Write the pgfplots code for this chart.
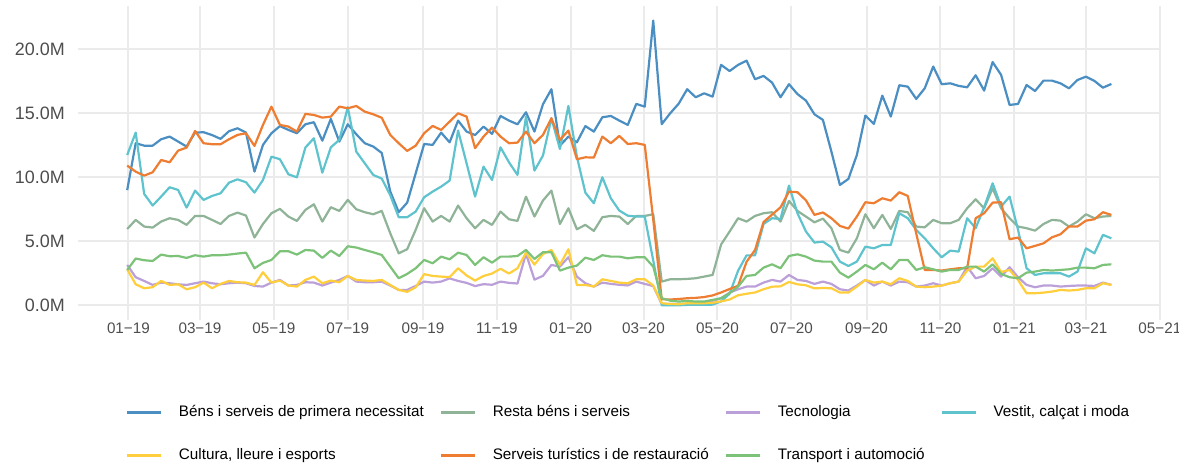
\documentclass[border=0pt]{standalone}
\usepackage{fontspec}
\setmainfont{Liberation Sans}
\usepackage{pgfplots}
\usepackage{pgfplotstable}
\pgfplotsset{compat=1.18}
\definecolor{cBens}{HTML}{4A8EC2}
\definecolor{cResta}{HTML}{8FB397}
\definecolor{cTec}{HTML}{BB9FD9}
\definecolor{cVest}{HTML}{5FC3CE}
\definecolor{cCult}{HTML}{FFCE3C}
\definecolor{cServ}{HTML}{EE7D31}
\definecolor{cTrans}{HTML}{7CC278}
\definecolor{gridgray}{HTML}{EBEBEB}
\definecolor{tickgray}{HTML}{4D4D4D}
\pgfplotstableread{
d A B C D E F G
-1 9.0 5.96 3.15 11.74 2.81 10.91 2.76
6 12.66 6.67 2.19 13.49 1.64 10.44 3.65
13 12.47 6.15 1.9 8.7 1.33 10.13 3.52
20 12.47 6.07 1.59 7.79 1.41 10.39 3.46
27 12.97 6.54 1.77 8.49 1.9 11.35 3.96
34 13.18 6.8 1.72 9.22 1.59 11.17 3.83
41 12.79 6.67 1.64 9.01 1.64 12.08 3.85
48 12.4 6.28 1.59 7.63 1.25 12.32 3.7
55 13.49 6.98 1.72 8.96 1.41 13.62 3.91
62 13.52 6.98 1.85 8.23 1.77 12.66 3.8
69 13.3 6.67 1.72 8.54 1.33 12.58 3.91
76 13.0 6.35 1.64 8.75 1.67 12.58 3.91
83 13.6 6.98 1.72 9.58 1.9 12.97 3.96
90 13.83 7.24 1.77 9.84 1.8 13.31 4.04
97 13.49 7.01 1.72 9.61 1.77 13.44 4.11
104 10.44 5.29 1.51 8.8 1.59 12.45 2.89
111 12.53 6.35 1.46 9.79 2.58 14.09 3.31
118 13.44 7.19 1.77 11.61 1.77 15.52 3.54
125 14.0 7.53 1.98 11.41 1.93 14.09 4.22
132 13.7 6.93 1.54 10.23 1.54 13.96 4.22
139 13.44 6.59 1.59 10.0 1.46 13.57 3.96
146 14.14 7.45 1.8 12.32 1.98 14.95 4.32
153 14.3 7.89 1.77 13.05 2.24 14.87 4.27
160 12.86 6.54 1.54 10.36 1.72 14.66 3.7
167 14.56 7.66 1.77 12.34 1.93 14.74 4.27
174 12.79 7.37 1.98 12.92 1.8 15.52 3.85
181 14.14 8.23 2.29 15.47 2.29 15.39 4.61
188 13.36 7.5 1.85 12.0 1.98 15.57 4.51
195 12.66 7.27 1.8 11.09 1.93 15.13 4.32
202 12.4 7.11 1.8 10.18 1.9 14.92 4.14
209 11.9 7.37 1.85 9.9 1.98 14.65 3.93
216 8.9 5.63 1.54 8.6 1.59 13.31 3.02
223 7.27 4.06 1.2 6.88 1.2 12.66 2.11
230 8.02 4.38 1.2 6.88 1.05 12.06 2.45
237 10.3 5.89 1.51 7.32 1.4 12.47 2.89
244 12.6 7.58 1.85 8.44 2.43 13.44 3.54
251 12.53 6.54 1.77 8.88 2.29 14.01 3.28
258 13.49 6.98 1.85 9.27 2.24 13.7 3.8
265 12.73 6.54 2.1 9.74 2.2 14.35 3.59
272 14.43 7.79 1.9 13.65 2.89 15.0 4.11
279 13.57 6.8 1.75 11.09 2.33 14.74 3.93
286 13.3 6.02 1.5 8.49 1.93 12.27 3.15
293 13.96 6.67 1.65 10.83 2.29 13.18 3.75
300 13.39 6.28 1.6 9.79 2.48 13.88 3.33
307 14.79 7.32 1.85 12.34 2.85 13.18 3.8
314 14.43 6.72 1.75 11.17 2.48 12.66 3.8
321 14.14 6.59 1.7 10.18 2.89 12.71 3.85
328 15.08 8.49 4.03 14.74 4.1 13.57 4.32
335 13.57 6.93 2.0 10.52 3.18 12.66 3.62
342 15.7 8.18 2.3 11.69 4.0 13.31 4.14
349 16.88 8.96 3.15 14.61 4.32 14.61 4.14
356 12.47 6.35 3.02 12.21 3.15 12.92 2.71
363 13.18 7.58 3.75 15.57 4.38 13.65 2.94
370 12.73 5.94 2.24 11.61 1.59 11.41 3.1
377 14.0 6.28 1.72 8.8 1.59 11.56 3.72
384 13.57 5.81 1.46 7.97 1.46 11.54 3.54
391 14.69 6.88 1.77 10.0 2.03 13.18 3.91
398 14.79 6.98 1.67 8.36 1.9 12.66 3.8
405 14.43 6.93 1.6 7.4 1.77 13.23 3.8
412 14.09 6.35 1.55 7.0 1.72 12.6 3.67
419 15.73 6.98 1.85 6.93 2.03 12.66 3.75
426 15.52 6.98 1.67 6.93 2.03 12.53 3.75
433 22.24 7.11 1.5 3.5 1.55 6.7 3.02
440 14.15 1.85 0.1 0.0 0.16 0.47 0.55
447 15.0 2.03 0.1 0.0 0.1 0.45 0.36
454 15.75 2.03 0.1 0.0 0.08 0.49 0.29
461 16.88 2.06 0.1 0.03 0.16 0.55 0.34
468 16.25 2.11 0.1 0.03 0.16 0.58 0.29
475 16.56 2.24 0.15 0.03 0.16 0.64 0.29
482 16.3 2.37 0.34 0.05 0.2 0.77 0.42
489 18.78 4.75 0.55 0.3 0.3 1.0 0.55
496 18.3 5.76 0.99 0.9 0.45 1.27 0.94
503 18.78 6.8 1.25 2.7 0.78 1.52 1.46
510 19.11 6.54 1.46 3.9 0.9 3.4 2.29
517 17.66 6.98 1.46 3.9 1.0 4.32 2.37
524 17.92 7.19 1.77 6.35 1.25 6.5 2.94
531 17.4 7.27 1.98 6.8 1.45 7.08 3.2
538 16.25 6.54 1.85 6.74 1.48 7.65 2.89
545 17.27 8.15 2.37 9.35 1.82 8.88 3.85
552 16.5 7.37 1.98 7.19 1.64 8.83 3.98
559 15.99 6.93 1.9 5.76 1.56 8.2 3.8
566 14.92 6.48 1.67 4.9 1.32 7.06 3.49
573 14.48 6.77 1.85 4.97 1.35 7.25 3.41
580 12.0 6.02 1.67 4.53 1.33 6.8 3.41
587 9.4 4.32 1.25 3.41 0.99 6.2 2.55
594 9.87 4.11 1.15 3.07 0.99 5.99 2.16
601 11.74 5.23 1.54 3.41 1.46 6.93 2.63
608 14.82 7.11 1.98 4.58 1.98 8.05 3.15
615 14.17 6.02 1.54 4.45 1.77 7.97 2.81
622 16.38 7.06 1.85 4.71 1.85 8.36 3.33
629 14.74 5.96 1.54 4.71 1.64 8.18 2.81
636 17.19 7.37 1.85 7.19 2.11 8.83 3.54
643 17.08 7.27 1.8 6.8 1.9 8.54 3.54
650 16.12 6.15 1.46 5.89 1.46 5.6 2.76
657 16.95 6.09 1.54 5.23 1.41 2.76 2.97
664 18.65 6.67 1.72 4.45 1.46 2.76 2.81
671 17.27 6.41 1.54 3.75 1.54 2.71 2.63
678 17.34 6.41 1.72 4.27 1.72 2.81 2.76
685 17.14 6.67 1.85 4.19 1.85 2.89 2.76
692 17.03 7.58 3.02 6.8 2.71 2.89 3.02
699 17.97 8.28 2.11 6.02 3.02 6.8 3.02
706 16.77 7.58 2.29 7.66 3.02 7.19 2.63
713 19.0 9.14 2.89 9.53 3.67 8.02 3.2
720 18.0 7.58 2.24 7.71 2.6 8.05 2.45
727 15.65 6.8 2.97 8.49 2.76 5.16 2.19
734 15.73 6.15 2.19 5.89 1.98 5.29 2.11
741 17.21 6.02 1.59 2.89 0.94 4.45 2.55
748 16.74 5.83 1.41 2.37 0.94 4.64 2.63
755 17.55 6.35 1.54 2.5 0.99 4.84 2.76
762 17.55 6.67 1.54 2.5 1.07 5.31 2.71
769 17.34 6.61 1.46 2.5 1.2 5.55 2.76
776 16.95 6.15 1.51 2.24 1.15 6.15 2.81
783 17.6 6.54 1.54 2.63 1.2 6.15 2.94
790 17.86 7.11 1.54 4.45 1.33 6.61 2.94
797 17.53 6.8 1.51 4.06 1.33 6.72 2.89
804 17.0 6.93 1.77 5.5 1.72 7.27 3.15
811 17.29 6.98 1.59 5.23 1.59 7.06 3.2
}\datatable
\begin{document}
\begin{tikzpicture}
\useasboundingbox (-78bp,-144.5bp) rectangle (1101bp,319.5bp);
\begin{axis}[
  at={(0,0)}, anchor=south west,
  scale only axis, width=1082.6bp, height=313.1bp,
  xmin=-41.6, xmax=851.6, ymin=-1.112, ymax=23.35,
  axis line style={draw=none},
  major tick length=0pt,
  xtick={0,59,120,181,243,304,365,425,486,547,609,670,731,790,851},
  xticklabels={01−19,03−19,05−19,07−19,09−19,11−19,01−20,03−20,05−20,07−20,09−20,11−20,01−21,03−21,05−21},
  ytick={0,5,10,15,20},
  yticklabels={0.0M,5.0M,10.0M,15.0M,20.0M},
  grid=major,
  major grid style={color=gridgray, line width=2bp},
  tick label style={font=\fontsize{15.3}{18}\selectfont, text=tickgray},
  yticklabel style={font=\fontsize{18}{20}\selectfont, anchor=east, inner sep=0pt, xshift=-13bp},
  /pgf/number format/assume math mode=true,
  every axis plot/.append style={line width=2.2bp, line join=round},
  legend columns=4,
  legend cell align=left,
  legend image code/.code={\draw[#1, line width=3bp] (0bp,0bp) -- (34bp,0bp);},
  legend style={at={(0.0443,-0.3657)}, anchor=west, draw=none, fill=none,
    inner sep=0pt, outer sep=0pt, row sep=29bp,
    font=\fontsize{15.3}{18}\selectfont, text=black,
    nodes={inner sep=0pt, text height=11bp, text depth=3.5bp},
    /tikz/every odd column/.append style={column sep=16bp},
    /tikz/every even column/.append style={column sep=16bp}},
]
\addplot[cBens] table[x=d, y=A] {\datatable};
\addlegendentry{Béns i serveis de primera necessitat}
\addplot[cResta] table[x=d, y=B] {\datatable};
\addlegendentry{Resta béns i serveis}
\addplot[cTec] table[x=d, y=C] {\datatable};
\addlegendentry{Tecnologia}
\addplot[cVest] table[x=d, y=D] {\datatable};
\addlegendentry{Vestit, calçat i moda}
\addplot[cCult] table[x=d, y=E] {\datatable};
\addlegendentry{Cultura, lleure i esports}
\addplot[cServ] table[x=d, y=F] {\datatable};
\addlegendentry{Serveis turístics i de restauració}
\addplot[cTrans] table[x=d, y=G] {\datatable};
\addlegendentry{Transport i automoció}
\end{axis}
\end{tikzpicture}
\end{document}
